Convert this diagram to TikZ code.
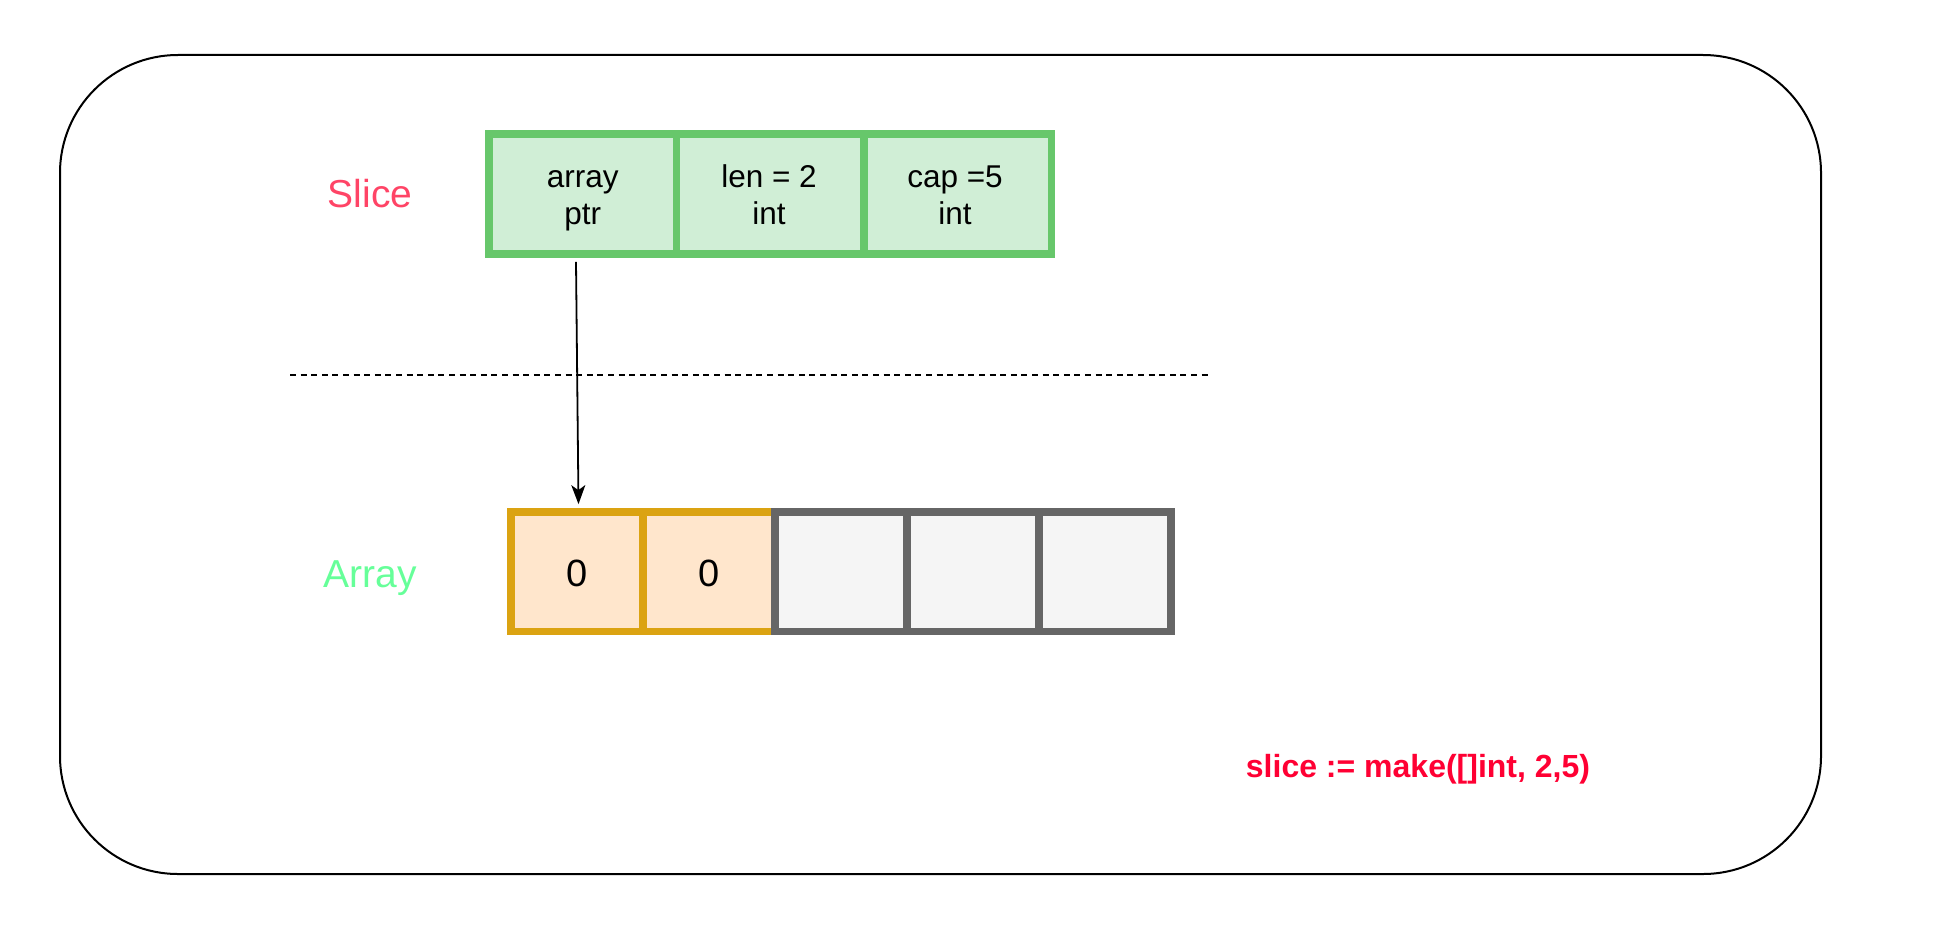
\documentclass[tikz,border=0pt]{standalone}
\usepackage{fontspec}
\setmainfont{Liberation Sans}
\usetikzlibrary{arrows.meta}
\definecolor{gstroke}{HTML}{67C76B}
\definecolor{gfill}{HTML}{D0EED6}
\definecolor{ostroke}{HTML}{DBA312}
\definecolor{ofill}{HTML}{FFE6CC}
\definecolor{kstroke}{HTML}{666666}
\definecolor{kfill}{HTML}{F5F5F5}
\definecolor{slicered}{HTML}{FF4466}
\definecolor{arraygreen}{HTML}{66FF99}
\definecolor{codered}{HTML}{FF0033}
\tikzset{
  frame/.style={draw=black, line width=2pt, rounded corners=118pt, inner sep=0pt},
  gcell/.style={draw=gstroke, fill=gfill, line width=7.7pt, inner sep=0pt, minimum width=187.5pt, minimum height=120pt},
  ocell/.style={draw=ostroke, fill=ofill, line width=7.7pt, inner sep=0pt, minimum width=132pt, minimum height=119.5pt},
  kcell/.style={draw=kstroke, fill=kfill, line width=7.7pt, inner sep=0pt, minimum width=132pt, minimum height=119.5pt},
  ctext/.style={anchor=base, inner sep=0pt, font=\fontsize{31.5}{36}\selectfont},
  ztext/.style={anchor=base, inner sep=0pt, font=\fontsize{38}{44}\selectfont},
  lbl/.style={anchor=base, inner sep=0pt, font=\fontsize{39}{46}\selectfont},
  ptr/.style={draw=black, line width=1.8pt, -{Stealth[length=19pt,width=14pt,inset=5pt]}},
  sep/.style={draw=black, line width=2pt, dash pattern=on 6pt off 4.6pt}
}
\begin{document}
\begin{tikzpicture}[x=1pt,y=-1pt]
\useasboundingbox (0,0) rectangle (1942,936);
\node[frame, minimum width=1761pt, minimum height=819pt] (box) at (940.5,464.5) {};
% slice header
\node[gcell] (s1) at (582.75,194) {};
\node[gcell] (s2) at (770.25,194) {};
\node[gcell] (s3) at (957.75,194) {};
\node[ctext] (s1a) at (582.75,187.5) {array};
\node[ctext] (s1b) at (582.75,224) {ptr};
\node[ctext] (s2a) at (769,187.5) {len = 2};
\node[ctext] (s2b) at (769,224) {int};
\node[ctext] (s3a) at (955,187.5) {cap =5};
\node[ctext] (s3b) at (955,224) {int};
% array
\node[ocell] (a1) at (577,571.75) {};
\node[ocell] (a2) at (709,571.75) {};
\node[kcell] (a3) at (841,571.75) {};
\node[kcell] (a4) at (973,571.75) {};
\node[kcell] (a5) at (1105,571.75) {};
\node[ztext] (z1) at (577,586) {0};
\node[ztext] (z2) at (709,586) {0};
% labels
\node[lbl, text=slicered] (slicelbl) at (370,207.3) {Slice};
\node[lbl, text=arraygreen] (arraylbl) at (370,587.3) {Array};
\node[anchor=base, inner sep=0pt, text=codered, font=\fontsize{32}{38}\selectfont\bfseries] (code) at (1418,777) {slice := make([]int, 2,5)};
% separator
\coordinate (d1) at (290,375);
\coordinate (d2) at (1207.5,375);
\draw[sep] (d1) -- (d2);
% pointer
\draw[ptr] ([xshift=-6.75pt,yshift=-4pt]s1.south) -- ([xshift=1.5pt,yshift=4pt]a1.north);
\end{tikzpicture}
\end{document}
